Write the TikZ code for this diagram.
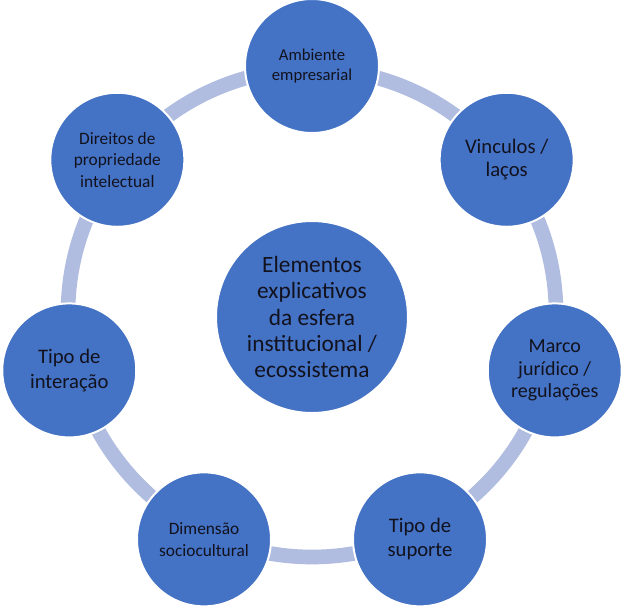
\documentclass[tikz,border=0pt]{standalone}
\usepackage{fontspec}
\setmainfont{Carlito}
\usetikzlibrary{calc,positioning}
\definecolor{elblue}{RGB}{68,114,196}
\definecolor{elring}{RGB}{176,188,224}
\definecolor{eltext}{RGB}{18,18,30}

\begin{document}
\begin{tikzpicture}[x=0.75pt,y=-0.75pt,
      el/.style={circle,fill=elblue,draw=white,line width=1.5pt,minimum size=100.5pt,
        inner sep=0pt,align=center,text=eltext},
      ring/.style={draw=elring,line width=11pt}]
      \useasboundingbox (0,0) rectangle (627,611);
      \coordinate (mid) at (312,315);
      \draw[ring] ($(mid)+(0,-2)$) circle (244);
      \node[el,minimum size=144pt,font=\fontsize{17.5}{19.8}\selectfont] (core) at (312,317)
        {Elementos\\explicativos\\da esfera\\institucional /\\ecossistema};
      \node[el,font=\fontsize{12.5}{15}\selectfont] (amb) at ($(mid)+(-90:249)$) {Ambiente\\empresarial};
      \node[el,font=\fontsize{15.5}{17.6}\selectfont] (vin) at ($(mid)+(-38.57:249)$) {Vinculos /\\laços};
      \node[el,font=\fontsize{15}{17}\selectfont] (marco) at ($(mid)+(12.86:249)$) {Marco\\jurídico /\\regulações};
      \node[el,font=\fontsize{15.5}{17.8}\selectfont] (sup) at ($(mid)+(64.29:249)$) {Tipo de\\suporte};
      \node[el,font=\fontsize{13}{16.5}\selectfont] (soc) at ($(mid)+(115.71:249)$) {Dimensão\\sociocultural};
      \node[el,font=\fontsize{15.5}{18.5}\selectfont] (inter) at ($(mid)+(167.14:249)$) {Tipo de\\interação};
      \node[el,font=\fontsize{13}{16}\selectfont] (dir) at ($(mid)+(218.57:249)$) {Direitos de\\propriedade\\intelectual};
\end{tikzpicture}
\end{document}
